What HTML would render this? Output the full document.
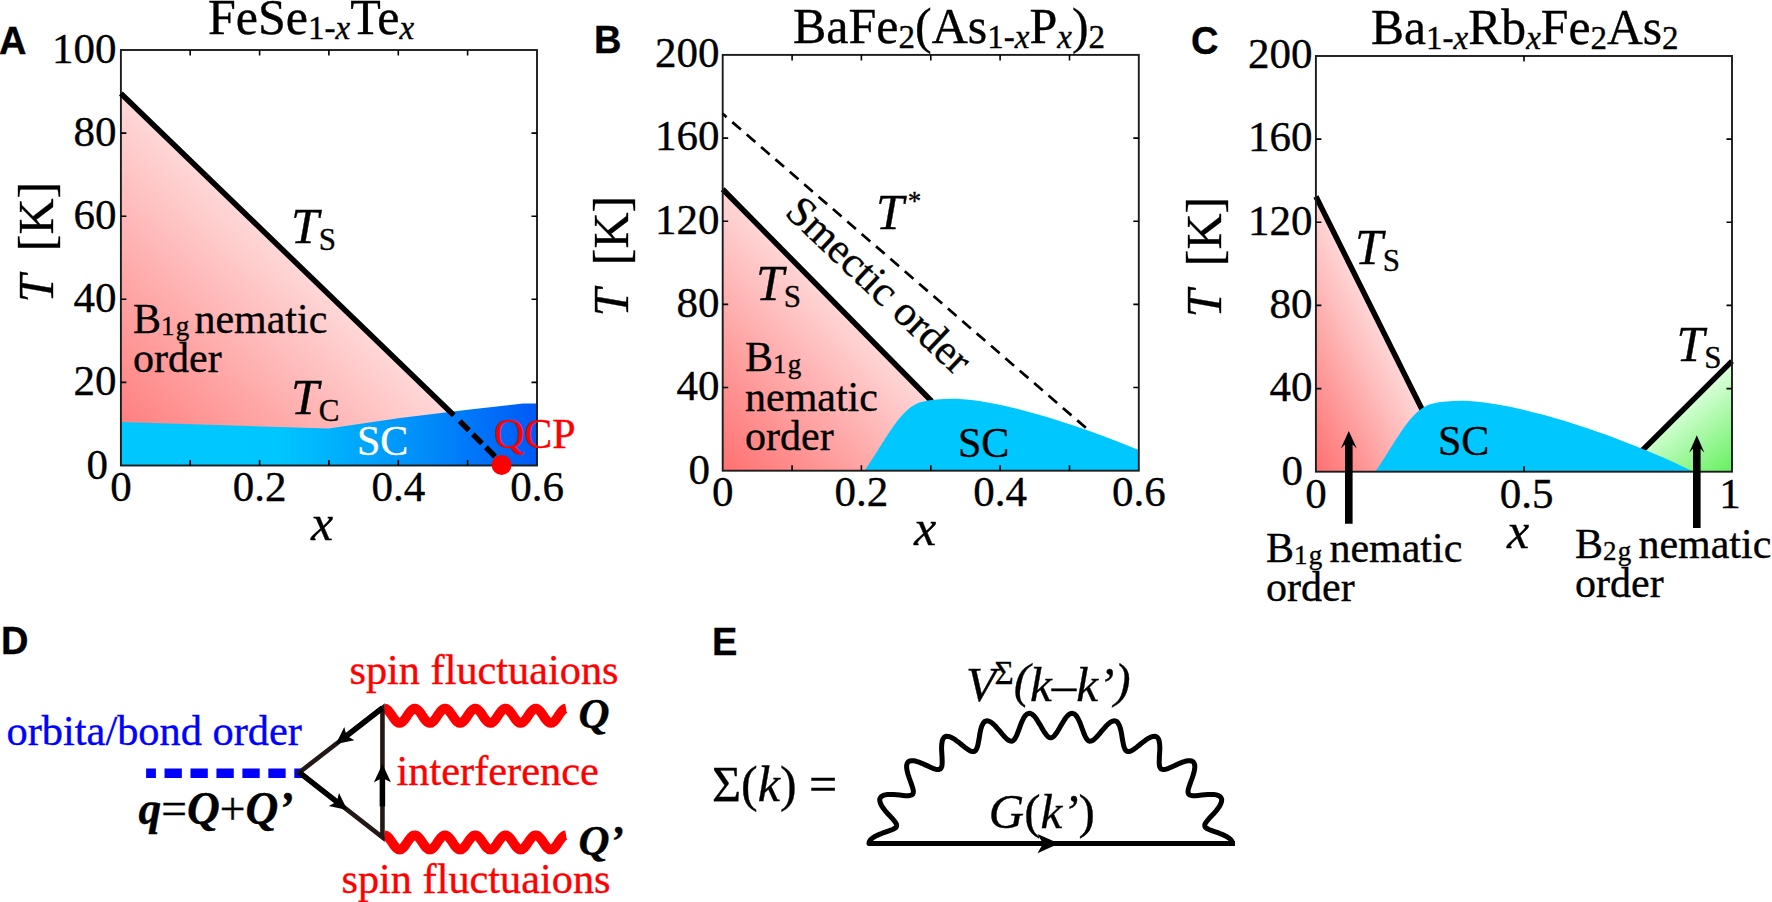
<!DOCTYPE html>
<html><head><meta charset="utf-8"><title>Phase diagrams</title>
<style>
html,body{margin:0;padding:0;background:#fff;}
svg{display:block;}
text{font-family:"Liberation Serif", serif;fill:#000;stroke-width:0.35px;stroke:#000;}
.lab{font-family:"Liberation Sans", sans-serif;font-weight:bold;font-size:38px;}
.tk{font-size:43px;}
.ti{font-size:50px;}
.it{font-style:italic;}
.ax{font-size:50px;}
.rg{font-size:42px;}
</style></head><body>
<svg width="1772" height="902" viewBox="0 0 1772 902">
<defs>
<linearGradient id="gA" gradientUnits="userSpaceOnUse" x1="121" y1="465" x2="311" y2="268">
<stop offset="0" stop-color="#ff7474"/><stop offset="1" stop-color="#ffdada"/></linearGradient>
<linearGradient id="gAb" gradientUnits="userSpaceOnUse" x1="121" y1="0" x2="538" y2="0">
<stop offset="0" stop-color="#00c8ff"/><stop offset="0.38" stop-color="#00c6ff"/><stop offset="0.7" stop-color="#0092fa"/><stop offset="1" stop-color="#0058f6"/></linearGradient>
<linearGradient id="gB" gradientUnits="userSpaceOnUse" x1="722" y1="470" x2="868" y2="327">
<stop offset="0" stop-color="#ff7070"/><stop offset="1" stop-color="#ffdada"/></linearGradient>
<linearGradient id="gC" gradientUnits="userSpaceOnUse" x1="1316" y1="471" x2="1428" y2="415">
<stop offset="0" stop-color="#ff7070"/><stop offset="1" stop-color="#ffdada"/></linearGradient>
<linearGradient id="gG" gradientUnits="userSpaceOnUse" x1="1732" y1="471" x2="1680" y2="405">
<stop offset="0" stop-color="#66f060"/><stop offset="1" stop-color="#dcffdc"/></linearGradient>
</defs>
<rect width="1772" height="902" fill="#fff"/>

<g id="panelA">
<path d="M120.9 93.6 L453.8 415.2 L453.8 440 L120.9 440Z" fill="url(#gA)"/>
<path d="M120.9 422 L200 424.5 L328.5 428.5 L400 418 L470 409.5 L523 403.5 L537 403.5 L537 465.5 L120.9 465.5Z" fill="url(#gAb)"/>
<rect x="120.9" y="50" width="416.1" height="415.5" fill="none" stroke="#1c1c1c" stroke-width="1.9"/>
<path d="M190.2 465.5v-5.5M190.2 50v5.5M259.6 465.5v-5.5M259.6 50v5.5M328.9 465.5v-5.5M328.9 50v5.5M398.3 465.5v-5.5M398.3 50v5.5M467.6 465.5v-5.5M467.6 50v5.5M120.9 133.1h5.5M537 133.1h-5.5M120.9 216.2h5.5M537 216.2h-5.5M120.9 299.3h5.5M537 299.3h-5.5M120.9 382.4h5.5M537 382.4h-5.5" stroke="#000" stroke-width="1.6" fill="none"/>
<path d="M120.9 93.6 L453.8 415.2" stroke="#000" stroke-width="5.5" fill="none"/>
<path d="M459.7 421.1 L496 457.4" stroke="#000" stroke-width="5.5" stroke-dasharray="13 5.5" fill="none"/>
<circle cx="501.6" cy="465" r="10" fill="#f00"/>
<text class="lab" x="-1" y="53.5">A</text>
<text class="ti" x="208" y="33.7">FeSe<tspan font-size="33" dy="5">1-<tspan class="it">x</tspan></tspan><tspan dy="-5">Te</tspan><tspan font-size="33" dy="5" class="it">x</tspan></text>
<text class="tk" x="116.5" y="63.0" text-anchor="end">100</text>
<text class="tk" x="116.5" y="146.1" text-anchor="end">80</text>
<text class="tk" x="116.5" y="229.2" text-anchor="end">60</text>
<text class="tk" x="116.5" y="312.29999999999995" text-anchor="end">40</text>
<text class="tk" x="116.5" y="395.4" text-anchor="end">20</text>
<text class="tk" x="108" y="479.0" text-anchor="end">0</text>
<text class="tk" x="120.9" y="501.3" text-anchor="middle">0</text>
<text class="tk" x="259.6" y="501.3" text-anchor="middle">0.2</text>
<text class="tk" x="398.29999999999995" y="501.3" text-anchor="middle">0.4</text>
<text class="tk" x="537.0" y="501.3" text-anchor="middle">0.6</text>
<text class="ax it" x="322" y="540" text-anchor="middle">x</text>
<text class="ax" transform="translate(53,302.5) rotate(-90)"><tspan class="it">T</tspan><tspan dx="23.5">[K]</tspan></text>
<text class="ax" x="291" y="243"><tspan class="it">T</tspan><tspan font-size="31" dy="7">S</tspan></text>
<text class="ax" x="291" y="414"><tspan class="it">T</tspan><tspan font-size="31" dy="7">C</tspan></text>
<text class="rg" x="133" y="333">B<tspan font-size="27" dy="2" letter-spacing="1.2">1g</tspan><tspan dy="-2" dx="4">nematic</tspan></text>
<text class="rg" x="133" y="372">order</text>
<text class="rg" x="357" y="455" style="fill:#fff;stroke:#fff">SC</text>
<text class="rg" x="494" y="448" style="fill:#f00;stroke:#f00">QCP</text>
</g>
<g id="panelB">
<path d="M722.7 189.3 L931.2 400.7 L931.2 470.7 L722.7 470.7Z" fill="url(#gB)"/>
<path d="M722.7 189.3 L931.7 401.2" stroke="#000" stroke-width="5.5" fill="none"/>
<path d="M864.5 470.7 C885.7 440.8 900.7 405.8 922.7 401.8 C935.7 398.8 950.7 398.3 962.7 399.3 C1010.7 402.8 1080 426 1138.8 450 L1138.8 470.7Z" fill="#00c8ff"/>
<rect x="722.7" y="54.9" width="416.0999999999999" height="415.8" fill="none" stroke="#1c1c1c" stroke-width="1.9"/>
<path d="M792.1 470.7v-5.5M792.1 54.9v5.5M861.4 470.7v-5.5M861.4 54.9v5.5M930.8 470.7v-5.5M930.8 54.9v5.5M1000.1 470.7v-5.5M1000.1 54.9v5.5M1069.5 470.7v-5.5M1069.5 54.9v5.5M722.7 138.1h5.5M1138.8 138.1h-5.5M722.7 221.2h5.5M1138.8 221.2h-5.5M722.7 304.4h5.5M1138.8 304.4h-5.5M722.7 387.5h5.5M1138.8 387.5h-5.5" stroke="#000" stroke-width="1.6" fill="none"/>
<path d="M722.7 113.8 L1088.5 430.1" stroke="#000" stroke-width="2.7" stroke-dasharray="11.4 7.6" stroke-dashoffset="6.3" fill="none"/>
<text class="lab" x="594" y="53">B</text>
<text class="ti" x="793" y="42.7">BaFe<tspan font-size="33" dy="5">2</tspan><tspan dy="-5">(As</tspan><tspan font-size="33" dy="5">1-<tspan class="it">x</tspan></tspan><tspan dy="-5">P</tspan><tspan font-size="33" dy="5" class="it">x</tspan><tspan dy="-5">)</tspan><tspan font-size="33" dy="5">2</tspan></text>
<text class="tk" x="719.5" y="67.2" text-anchor="end">200</text>
<text class="tk" x="719.5" y="150.36" text-anchor="end">160</text>
<text class="tk" x="719.5" y="233.52" text-anchor="end">120</text>
<text class="tk" x="719.5" y="316.68" text-anchor="end">80</text>
<text class="tk" x="719.5" y="399.84" text-anchor="end">40</text>
<text class="tk" x="710" y="484.19999999999993" text-anchor="end">0</text>
<text class="tk" x="722.7" y="506" text-anchor="middle">0</text>
<text class="tk" x="861.4000000000001" y="506" text-anchor="middle">0.2</text>
<text class="tk" x="1000.1" y="506" text-anchor="middle">0.4</text>
<text class="tk" x="1138.8" y="506" text-anchor="middle">0.6</text>
<text class="ax it" x="925" y="545" text-anchor="middle">x</text>
<text class="ax" transform="translate(628,316.5) rotate(-90)"><tspan class="it">T</tspan><tspan dx="23.5">[K]</tspan></text>
<text class="ax" x="876" y="229"><tspan class="it">T</tspan><tspan font-size="27" dy="-19" dx="4">*</tspan></text>
<text class="ax" x="756" y="300"><tspan class="it">T</tspan><tspan font-size="31" dy="7">S</tspan></text>
<text class="rg" transform="translate(783.5,214) rotate(43.4)" style="font-size:42.4px">Smectic order</text>
<text class="rg" x="745" y="371">B<tspan font-size="27" dy="2" letter-spacing="1.2">1g</tspan></text>
<text class="rg" x="745" y="411">nematic</text>
<text class="rg" x="745" y="450">order</text>
<text class="rg" x="958" y="457">SC</text>
</g>
<g id="panelC">
<path d="M1315.9 196.5 L1422.7 410.8 L1422.7 471.7 L1315.9 471.7Z" fill="url(#gC)"/>
<path d="M1645 447.8 L1732 361.1 L1732 471.7 L1645 471.7Z" fill="url(#gG)"/>
<path d="M1315.9 196.5 L1422.7 410.8" stroke="#000" stroke-width="5.5" fill="none"/>
<path d="M1641.5 451.3 L1732 361.1" stroke="#000" stroke-width="5.5" fill="none"/>
<path d="M1375.2 471.7 C1394 445.8 1410 408.8 1432 403.8 C1445 400.8 1460 400.3 1472 401.3 C1530 405.8 1620 435.8 1694 471.7Z" fill="#00c8ff"/>
<rect x="1315.9" y="56" width="416.0999999999999" height="415.7" fill="none" stroke="#1c1c1c" stroke-width="1.9"/>
<path d="M1524.0 471.7v-5.5M1524.0 56v5.5M1315.9 139.1h5.5M1732 139.1h-5.5M1315.9 222.3h5.5M1732 222.3h-5.5M1315.9 305.4h5.5M1732 305.4h-5.5M1315.9 388.6h5.5M1732 388.6h-5.5" stroke="#000" stroke-width="1.6" fill="none"/>
<text class="lab" x="1191" y="53.5">C</text>
<text class="ti" x="1371" y="44.3" style="font-size:49.6px">Ba<tspan font-size="33" dy="5">1-<tspan class="it">x</tspan></tspan><tspan dy="-5">Rb</tspan><tspan font-size="33" dy="5" class="it">x</tspan><tspan dy="-5">Fe</tspan><tspan font-size="33" dy="5">2</tspan><tspan dy="-5">As</tspan><tspan font-size="33" dy="5">2</tspan></text>
<text class="tk" x="1312.5" y="68.3" text-anchor="end">200</text>
<text class="tk" x="1312.5" y="151.44" text-anchor="end">160</text>
<text class="tk" x="1312.5" y="234.58" text-anchor="end">120</text>
<text class="tk" x="1312.5" y="317.72" text-anchor="end">80</text>
<text class="tk" x="1312.5" y="400.86" text-anchor="end">40</text>
<text class="tk" x="1303" y="485.2" text-anchor="end">0</text>
<text class="tk" x="1316" y="508" text-anchor="middle">0</text>
<text class="tk" x="1526.5" y="508" text-anchor="middle">0.5</text>
<text class="tk" x="1730" y="508" text-anchor="middle">1</text>
<text class="ax it" x="1518" y="548" text-anchor="middle">x</text>
<text class="ax" transform="translate(1221,317.5) rotate(-90)"><tspan class="it">T</tspan><tspan dx="23.5">[K]</tspan></text>
<text class="ax" x="1355" y="263.6"><tspan class="it">T</tspan><tspan font-size="31" dy="7">S</tspan></text>
<text class="ax" x="1676.5" y="361"><tspan class="it">T</tspan><tspan font-size="31" dy="7">S</tspan></text>
<text class="rg" x="1438" y="455">SC</text>
<path d="M1345.0 523.8 L1345.0 444.5 L1340.8 448.5 L1348.8 431 L1356.8 448.5 L1352.6 444.5 L1352.6 523.8Z" fill="#000"/>
<path d="M1693.0 528 L1693.0 448.8 L1689.2 452.8 L1696.8 435.3 L1704.3999999999999 452.8 L1700.6 448.8 L1700.6 528Z" fill="#000"/>
<text class="rg" x="1266" y="562">B<tspan font-size="27" dy="2" letter-spacing="1.2">1g</tspan><tspan dy="-2" dx="6">nematic</tspan></text>
<text class="rg" x="1266" y="601">order</text>
<text class="rg" x="1575" y="558">B<tspan font-size="27" dy="2" letter-spacing="1.2">2g</tspan><tspan dy="-2" dx="6">nematic</tspan></text>
<text class="rg" x="1575" y="597">order</text>
</g>
<g id="panelD">
<text class="lab" x="1" y="653.5">D</text>
<path d="M384.5 708.6 L385.8 708.8 L387.0 709.6 L388.3 710.7 L389.5 712.2 L390.8 713.9 L392.1 715.8 L393.3 717.7 L394.6 719.4 L395.8 720.9 L397.1 722.0 L398.4 722.8 L399.6 723.0 L400.9 722.8 L402.1 722.0 L403.4 720.9 L404.7 719.4 L405.9 717.7 L407.2 715.8 L408.4 713.9 L409.7 712.2 L411.0 710.7 L412.2 709.6 L413.5 708.8 L414.8 708.6 L416.0 708.8 L417.3 709.6 L418.5 710.7 L419.8 712.2 L421.1 713.9 L422.3 715.8 L423.6 717.7 L424.8 719.4 L426.1 720.9 L427.4 722.0 L428.6 722.8 L429.9 723.0 L431.1 722.8 L432.4 722.0 L433.7 720.9 L434.9 719.4 L436.2 717.7 L437.4 715.8 L438.7 713.9 L440.0 712.2 L441.2 710.7 L442.5 709.6 L443.7 708.8 L445.0 708.6 L446.3 708.8 L447.5 709.6 L448.8 710.7 L450.0 712.2 L451.3 713.9 L452.6 715.8 L453.8 717.7 L455.1 719.4 L456.3 720.9 L457.6 722.0 L458.9 722.8 L460.1 723.0 L461.4 722.8 L462.6 722.0 L463.9 720.9 L465.2 719.4 L466.4 717.7 L467.7 715.8 L468.9 713.9 L470.2 712.2 L471.5 710.7 L472.7 709.6 L474.0 708.8 L475.2 708.6 L476.5 708.8 L477.8 709.6 L479.0 710.7 L480.3 712.2 L481.6 713.9 L482.8 715.8 L484.1 717.7 L485.3 719.4 L486.6 720.9 L487.9 722.0 L489.1 722.8 L490.4 723.0 L491.6 722.8 L492.9 722.0 L494.2 720.9 L495.4 719.4 L496.7 717.7 L497.9 715.8 L499.2 713.9 L500.5 712.2 L501.7 710.7 L503.0 709.6 L504.2 708.8 L505.5 708.6 L506.8 708.8 L508.0 709.6 L509.3 710.7 L510.5 712.2 L511.8 713.9 L513.1 715.8 L514.3 717.7 L515.6 719.4 L516.8 720.9 L518.1 722.0 L519.4 722.8 L520.6 723.0 L521.9 722.8 L523.1 722.0 L524.4 720.9 L525.7 719.4 L526.9 717.7 L528.2 715.8 L529.4 713.9 L530.7 712.2 L532.0 710.7 L533.2 709.6 L534.5 708.8 L535.8 708.6 L537.0 708.8 L538.3 709.6 L539.5 710.7 L540.8 712.2 L542.1 713.9 L543.3 715.8 L544.6 717.7 L545.8 719.4 L547.1 720.9 L548.4 722.0 L549.6 722.8 L550.9 723.0 L552.1 722.8 L553.4 722.0 L554.7 720.9 L555.9 719.4 L557.2 717.7 L558.4 715.8 L559.7 713.9 L561.0 712.2 L562.2 710.7 L563.5 709.6 L564.7 708.8 L566.0 708.6" fill="none" stroke="#f00" stroke-width="9.6" stroke-linecap="butt" stroke-linejoin="round"/>
<path d="M384.5 835.2 L385.8 835.4 L387.0 836.2 L388.3 837.3 L389.5 838.8 L390.8 840.5 L392.1 842.4 L393.3 844.3 L394.6 846.0 L395.8 847.5 L397.1 848.6 L398.4 849.4 L399.6 849.6 L400.9 849.4 L402.1 848.6 L403.4 847.5 L404.7 846.0 L405.9 844.3 L407.2 842.4 L408.4 840.5 L409.7 838.8 L411.0 837.3 L412.2 836.2 L413.5 835.4 L414.8 835.2 L416.0 835.4 L417.3 836.2 L418.5 837.3 L419.8 838.8 L421.1 840.5 L422.3 842.4 L423.6 844.3 L424.8 846.0 L426.1 847.5 L427.4 848.6 L428.6 849.4 L429.9 849.6 L431.1 849.4 L432.4 848.6 L433.7 847.5 L434.9 846.0 L436.2 844.3 L437.4 842.4 L438.7 840.5 L440.0 838.8 L441.2 837.3 L442.5 836.2 L443.7 835.4 L445.0 835.2 L446.3 835.4 L447.5 836.2 L448.8 837.3 L450.0 838.8 L451.3 840.5 L452.6 842.4 L453.8 844.3 L455.1 846.0 L456.3 847.5 L457.6 848.6 L458.9 849.4 L460.1 849.6 L461.4 849.4 L462.6 848.6 L463.9 847.5 L465.2 846.0 L466.4 844.3 L467.7 842.4 L468.9 840.5 L470.2 838.8 L471.5 837.3 L472.7 836.2 L474.0 835.4 L475.2 835.2 L476.5 835.4 L477.8 836.2 L479.0 837.3 L480.3 838.8 L481.6 840.5 L482.8 842.4 L484.1 844.3 L485.3 846.0 L486.6 847.5 L487.9 848.6 L489.1 849.4 L490.4 849.6 L491.6 849.4 L492.9 848.6 L494.2 847.5 L495.4 846.0 L496.7 844.3 L497.9 842.4 L499.2 840.5 L500.5 838.8 L501.7 837.3 L503.0 836.2 L504.2 835.4 L505.5 835.2 L506.8 835.4 L508.0 836.2 L509.3 837.3 L510.5 838.8 L511.8 840.5 L513.1 842.4 L514.3 844.3 L515.6 846.0 L516.8 847.5 L518.1 848.6 L519.4 849.4 L520.6 849.6 L521.9 849.4 L523.1 848.6 L524.4 847.5 L525.7 846.0 L526.9 844.3 L528.2 842.4 L529.4 840.5 L530.7 838.8 L532.0 837.3 L533.2 836.2 L534.5 835.4 L535.8 835.2 L537.0 835.4 L538.3 836.2 L539.5 837.3 L540.8 838.8 L542.1 840.5 L543.3 842.4 L544.6 844.3 L545.8 846.0 L547.1 847.5 L548.4 848.6 L549.6 849.4 L550.9 849.6 L552.1 849.4 L553.4 848.6 L554.7 847.5 L555.9 846.0 L557.2 844.3 L558.4 842.4 L559.7 840.5 L561.0 838.8 L562.2 837.3 L563.5 836.2 L564.7 835.4 L566.0 835.2" fill="none" stroke="#f00" stroke-width="9.6" stroke-linecap="butt" stroke-linejoin="round"/>
<path d="M146.1 773.2 H302.6" stroke="#00f" stroke-width="9.5" stroke-dasharray="17.3 8.65" stroke-dashoffset="7.5" fill="none"/>
<path d="M382.45 708.0 L299.3 772.4 L382.45 837.4 Z" fill="none" stroke="#231815" stroke-width="4.6" stroke-linejoin="miter" stroke-miterlimit="5"/>
<path d="M382.4 708.0 L345.7 736.5" stroke="#000" stroke-width="5.5" fill="none"/><path d="M335.9 744.1 L344.3 727.1 L346.5 735.8 L354.4 740.2Z" fill="#000"/>
<path d="M299.3 772.4 L337.5 802.3" stroke="#000" stroke-width="5.5" fill="none"/><path d="M347.3 809.9 L328.8 806.0 L336.7 801.7 L339.0 792.9Z" fill="#000"/>
<path d="M382.4 806.4 L382.4 777.1" stroke="#000" stroke-width="5.5" fill="none"/><path d="M382.4 764.0 L390.9 782.3 L382.4 778.1 L373.9 782.3Z" fill="#000"/>
<text x="349.5" y="684.3" font-size="42.3" style="fill:#f00;stroke:#f00">spin fluctuaions</text>
<text x="341.5" y="892.5" font-size="42.3" style="fill:#f00;stroke:#f00">spin fluctuaions</text>
<text x="396.5" y="785" font-size="42.4" style="fill:#f00;stroke:#f00">interference</text>
<text x="6.5" y="745.4" font-size="42.4" style="fill:#00f;stroke:#00f">orbita/bond order</text>
<text x="138.5" y="823.5" font-size="45.5" font-weight="bold" class="it">q<tspan font-weight="normal" font-style="normal">=</tspan>Q<tspan font-weight="normal" font-style="normal">+</tspan>Q’</text>
<text x="578.5" y="727.5" font-size="43" font-weight="bold" class="it">Q</text>
<text x="578.5" y="854.5" font-size="43" font-weight="bold" class="it">Q’</text>
</g>
<g id="panelE">
<text class="lab" x="712" y="654.5">E</text>
<path d="M869.0 843.5 L869.3 841.8 L870.3 840.1 L871.9 838.5 L874.0 837.0 L876.5 835.6 L879.4 834.4 L882.3 833.2 L885.3 832.1 L888.2 831.1 L890.8 830.2 L893.0 829.3 L894.8 828.3 L896.0 827.3 L896.6 826.1 L896.6 824.8 L896.0 823.3 L894.9 821.7 L893.4 819.8 L891.6 817.7 L889.5 815.5 L887.3 813.2 L885.2 810.8 L883.3 808.3 L881.7 805.9 L880.6 803.6 L879.9 801.5 L879.7 799.6 L880.2 798.0 L881.3 796.6 L882.9 795.6 L885.0 794.9 L887.5 794.5 L890.4 794.4 L893.5 794.5 L896.7 794.8 L899.8 795.1 L902.9 795.4 L905.6 795.7 L908.1 795.7 L910.1 795.5 L911.6 795.0 L912.7 794.2 L913.2 793.0 L913.4 791.4 L913.1 789.4 L912.4 787.0 L911.5 784.4 L910.5 781.5 L909.4 778.5 L908.4 775.5 L907.5 772.5 L906.9 769.7 L906.6 767.2 L906.7 765.0 L907.3 763.2 L908.2 761.9 L909.7 761.0 L911.5 760.7 L913.7 760.8 L916.2 761.3 L918.9 762.2 L921.8 763.3 L924.7 764.6 L927.6 765.9 L930.4 767.2 L932.9 768.3 L935.2 769.1 L937.2 769.5 L938.9 769.5 L940.2 769.0 L941.1 768.0 L941.8 766.4 L942.1 764.4 L942.2 762.0 L942.1 759.2 L942.0 756.1 L941.8 753.0 L941.6 749.8 L941.6 746.7 L941.8 743.8 L942.2 741.3 L942.8 739.3 L943.8 737.7 L945.0 736.7 L946.6 736.3 L948.4 736.4 L950.5 737.1 L952.7 738.2 L955.2 739.7 L957.6 741.6 L960.2 743.5 L962.6 745.5 L965.0 747.4 L967.3 749.1 L969.4 750.4 L971.2 751.3 L972.8 751.6 L974.3 751.4 L975.4 750.7 L976.4 749.3 L977.2 747.4 L977.9 745.0 L978.4 742.3 L979.0 739.3 L979.5 736.1 L980.0 733.0 L980.6 730.0 L981.4 727.2 L982.3 724.9 L983.4 723.0 L984.6 721.6 L986.0 720.9 L987.6 720.8 L989.4 721.3 L991.2 722.4 L993.2 724.0 L995.3 726.0 L997.3 728.3 L999.4 730.7 L1001.4 733.1 L1003.4 735.5 L1005.3 737.5 L1007.1 739.2 L1008.8 740.4 L1010.3 741.1 L1011.7 741.2 L1013.1 740.6 L1014.3 739.5 L1015.5 737.7 L1016.6 735.5 L1017.6 733.0 L1018.7 730.1 L1019.8 727.1 L1020.9 724.1 L1022.1 721.3 L1023.3 718.7 L1024.6 716.5 L1026.0 714.9 L1027.4 713.8 L1029.0 713.3 L1030.5 713.5 L1032.1 714.3 L1033.8 715.7 L1035.5 717.6 L1037.1 720.0 L1038.7 722.6 L1040.4 725.3 L1041.9 728.1 L1043.5 730.7 L1045.0 733.1 L1046.5 735.1 L1047.9 736.6 L1049.3 737.5 L1050.7 737.8 L1052.1 737.5 L1053.5 736.6 L1054.9 735.1 L1056.4 733.1 L1057.9 730.7 L1059.5 728.1 L1061.0 725.3 L1062.7 722.6 L1064.3 720.0 L1065.9 717.6 L1067.6 715.7 L1069.3 714.3 L1070.9 713.5 L1072.4 713.3 L1074.0 713.8 L1075.4 714.9 L1076.8 716.5 L1078.1 718.7 L1079.3 721.3 L1080.5 724.1 L1081.6 727.1 L1082.7 730.1 L1083.8 733.0 L1084.8 735.5 L1085.9 737.7 L1087.1 739.5 L1088.3 740.6 L1089.7 741.2 L1091.1 741.1 L1092.6 740.4 L1094.3 739.2 L1096.1 737.5 L1098.0 735.5 L1100.0 733.1 L1102.0 730.7 L1104.1 728.3 L1106.1 726.0 L1108.2 724.0 L1110.2 722.4 L1112.0 721.3 L1113.8 720.8 L1115.4 720.9 L1116.8 721.6 L1118.0 723.0 L1119.1 724.9 L1120.0 727.2 L1120.8 730.0 L1121.4 733.0 L1121.9 736.1 L1122.4 739.3 L1123.0 742.3 L1123.5 745.0 L1124.2 747.4 L1125.0 749.3 L1126.0 750.7 L1127.1 751.4 L1128.6 751.6 L1130.2 751.3 L1132.0 750.4 L1134.1 749.1 L1136.4 747.4 L1138.8 745.5 L1141.2 743.5 L1143.8 741.6 L1146.2 739.7 L1148.7 738.2 L1150.9 737.1 L1153.0 736.4 L1154.8 736.3 L1156.4 736.7 L1157.6 737.7 L1158.6 739.3 L1159.2 741.3 L1159.6 743.8 L1159.8 746.7 L1159.8 749.8 L1159.6 753.0 L1159.4 756.1 L1159.3 759.2 L1159.2 762.0 L1159.3 764.4 L1159.6 766.4 L1160.3 768.0 L1161.2 769.0 L1162.5 769.5 L1164.2 769.5 L1166.2 769.1 L1168.5 768.3 L1171.0 767.2 L1173.8 765.9 L1176.7 764.6 L1179.6 763.3 L1182.5 762.2 L1185.2 761.3 L1187.7 760.8 L1189.9 760.7 L1191.7 761.0 L1193.2 761.9 L1194.1 763.2 L1194.7 765.0 L1194.8 767.2 L1194.5 769.7 L1193.9 772.5 L1193.0 775.5 L1192.0 778.5 L1190.9 781.5 L1189.9 784.4 L1189.0 787.0 L1188.3 789.4 L1188.0 791.4 L1188.2 793.0 L1188.7 794.2 L1189.8 795.0 L1191.3 795.5 L1193.3 795.7 L1195.8 795.7 L1198.5 795.4 L1201.6 795.1 L1204.7 794.8 L1207.9 794.5 L1211.0 794.4 L1213.9 794.5 L1216.4 794.9 L1218.5 795.6 L1220.1 796.6 L1221.2 798.0 L1221.7 799.6 L1221.5 801.5 L1220.8 803.6 L1219.7 805.9 L1218.1 808.3 L1216.2 810.8 L1214.1 813.2 L1211.9 815.5 L1209.8 817.7 L1208.0 819.8 L1206.5 821.7 L1205.4 823.3 L1204.8 824.8 L1204.8 826.1 L1205.4 827.3 L1206.6 828.3 L1208.4 829.3 L1210.6 830.2 L1213.2 831.1 L1216.1 832.1 L1219.1 833.2 L1222.0 834.4 L1224.9 835.6 L1227.4 837.0 L1229.5 838.5 L1231.1 840.1 L1232.1 841.8 L1232.4 843.5" fill="none" stroke="#000" stroke-width="5" stroke-linejoin="round" stroke-linecap="round"/>
<path d="M868 843.5 H1235" stroke="#000" stroke-width="5" fill="none"/>
<path d="M1059.0 843.6 L1037.5 853.2 L1043.0 843.6 L1037.5 834.0Z" fill="#000"/>
<text x="712" y="801" font-size="50">Σ(<tspan class="it">k</tspan>) =</text>
<text x="966" y="701.3" font-size="49" class="it">V<tspan font-size="33" dy="-17.5" dx="-1.5" font-style="normal">Σ</tspan><tspan dy="13.5">(</tspan><tspan dy="4">k–k’</tspan><tspan dy="-4">)</tspan></text>
<text x="988.8" y="828.3" font-size="49" class="it">G<tspan font-style="normal">(</tspan>k’<tspan font-style="normal">)</tspan></text>
</g>
</svg></body></html>
